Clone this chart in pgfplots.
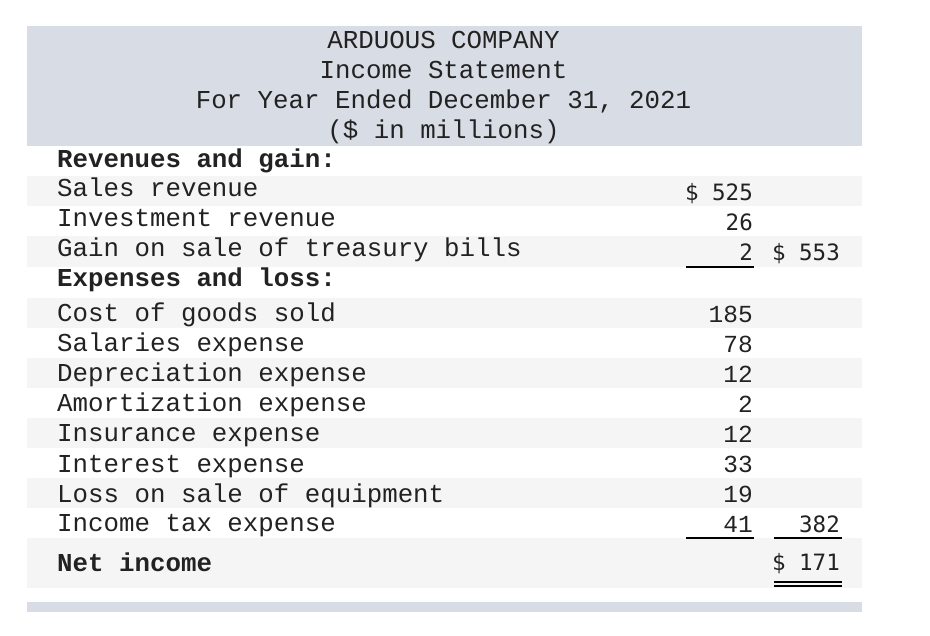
\documentclass[border=0pt]{standalone}
\usepackage{pgfplots}
\pgfplotsset{compat=1.18}
\usepackage{fontspec}
\setmainfont{Liberation Mono}
\newfontfamily\lmono{Liberation Mono}
\newfontfamily\dmono{DejaVu Sans Mono}
\definecolor{hdr}{HTML}{D8DCE4}
\definecolor{band}{HTML}{F5F5F5}
\definecolor{textc}{HTML}{222222}
\tikzset{
  lbl/.style={anchor=base west, inner sep=0pt, text=textc, font=\lmono\fontsize{25.8}{30}\selectfont},
  hd/.style={anchor=base, inner sep=0pt, text=textc, font=\lmono\fontsize{25.8}{30}\selectfont},
}
\begin{document}
\begin{tikzpicture}
\begin{axis}[
  width=930pt, height=636pt, scale only axis,
  xmin=0, xmax=930, ymin=0, ymax=636, y dir=reverse,
  hide axis, clip=false,
]
% full canvas
\path[fill=white] (axis cs:0,0) rectangle (axis cs:930,636);
% background bands
\fill[hdr] (axis cs:27,26) rectangle (axis cs:862,146);
\fill[hdr] (axis cs:27,602) rectangle (axis cs:862,612);
\fill[band] (axis cs:27,176) rectangle (axis cs:862,206);
\fill[band] (axis cs:27,236) rectangle (axis cs:862,267);
\fill[band] (axis cs:27,298) rectangle (axis cs:862,328);
\fill[band] (axis cs:27,358) rectangle (axis cs:862,388);
\fill[band] (axis cs:27,418) rectangle (axis cs:862,448);
\fill[band] (axis cs:27,478) rectangle (axis cs:862,508);
\fill[band] (axis cs:27,538) rectangle (axis cs:862,588);
% header
\node[hd] at (axis cs:443.5,49) {ARDUOUS COMPANY};
\node[hd] at (axis cs:443.5,79) {Income Statement};
\node[hd] at (axis cs:443.5,109) {For Year Ended December 31, 2021};
\node[hd] at (axis cs:443.5,139) {(\$ in millions)};
% labels
\node[lbl] at (axis cs:57,168) {\bfseries Revenues and gain:};
\node[lbl] at (axis cs:57,197) {Sales revenue};
\node[lbl] at (axis cs:57,227) {Investment revenue};
\node[lbl] at (axis cs:57,257) {Gain on sale of treasury bills};
\node[lbl] at (axis cs:57,287) {\bfseries Expenses and loss:};
\node[lbl] at (axis cs:57,322) {Cost of goods sold};
\node[lbl] at (axis cs:57,352) {Salaries expense};
\node[lbl] at (axis cs:57,382) {Depreciation expense};
\node[lbl] at (axis cs:57,412) {Amortization expense};
\node[lbl] at (axis cs:57,442) {Insurance expense};
\node[lbl] at (axis cs:57,472) {Interest expense};
\node[lbl] at (axis cs:57,502) {Loss on sale of equipment};
\node[lbl] at (axis cs:57,532) {Income tax expense};
\node[lbl] at (axis cs:57,571) {\bfseries Net income};
% sans numbers
\addplot[draw=none, mark=none, point meta=explicit symbolic, nodes near coords,
  every node near coord/.style={anchor=base east, inner sep=0pt, text=textc, font=\dmono\fontsize{22.5}{27}\selectfont}]
  coordinates {
  (753,200.7) [\$ 525]
  (753,230.7) [26]
  (753,260.5) [2]
  (840,260.5) [\$ 553]
  (840,532.5) [382]
  (840,570.5) [\$ 171]
  };
% serif mono numbers
\addplot[draw=none, mark=none, point meta=explicit symbolic, nodes near coords,
  every node near coord/.style={anchor=base east, inner sep=0pt, text=textc, font=\lmono\fontsize{24.5}{29}\selectfont}]
  coordinates {
  (753,322.7) [185]
  (753,352.7) [78]
  (753,382.7) [12]
  (753,412.7) [2]
  (753,442.7) [12]
  (753,472.7) [33]
  (753,502.7) [19]
  (753,532.5) [41]
  };
% rules
\addplot[black, line width=1.3pt, mark=none] coordinates {(686,267) (754,267)};
\addplot[black, line width=1.3pt, mark=none] coordinates {(686,538) (754,538)};
\addplot[black, line width=1.3pt, mark=none] coordinates {(774,538) (842,538)};
\addplot[black, line width=1.2pt, mark=none] coordinates {(774,582) (842,582)};
\addplot[black, line width=1.2pt, mark=none] coordinates {(774,586) (842,586)};
\end{axis}
\end{tikzpicture}
\end{document}
